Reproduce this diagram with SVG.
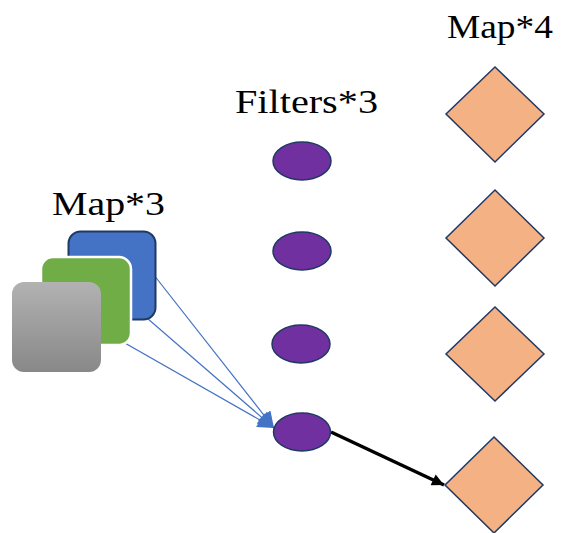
<svg xmlns="http://www.w3.org/2000/svg" width="564" height="533" viewBox="0 0 564 533">
  <style>
    .label { font-family: "Liberation Serif", "Times New Roman", serif; font-size: 34px; fill: #000; }
    .filter { fill: #7030a0; stroke: #1f3864; stroke-width: 1.5; }
    .map4 { fill: #f4b183; stroke: #203864; stroke-width: 1.5; }
    .thin { stroke: #4472c4; stroke-width: 1.2; fill: none; }
  </style>
  <defs>
    <linearGradient id="grayFill" x1="0" y1="0" x2="0" y2="1">
      <stop offset="0" stop-color="#b2b2b2"/>
      <stop offset="1" stop-color="#888888"/>
    </linearGradient>
    <marker id="blueHead" viewBox="0 0 10 10" refX="10" refY="5" markerWidth="18" markerHeight="16" markerUnits="userSpaceOnUse" orient="auto">
      <path d="M0,0 L10,5 L0,10 z" fill="#4472c4"/>
    </marker>
    <marker id="blackHead" viewBox="0 0 10 10" refX="10" refY="5" markerWidth="15" markerHeight="12" markerUnits="userSpaceOnUse" orient="auto">
      <path d="M0,0 L10,5 L0,10 z" fill="#000"/>
    </marker>
  </defs>

  <rect width="564" height="533" fill="#fff"/>

  <!-- labels -->
  <text class="label" x="52" y="215" textLength="113" lengthAdjust="spacingAndGlyphs">Map*3</text>
  <text class="label" x="235" y="113" textLength="143" lengthAdjust="spacingAndGlyphs">Filters*3</text>
  <text class="label" x="447" y="38" textLength="106" lengthAdjust="spacingAndGlyphs">Map*4</text>

  <!-- connectors -->
  <g id="connectors">
    <line class="thin" x1="150" y1="270" x2="274" y2="428" marker-end="url(#blueHead)"/>
    <line class="thin" x1="140" y1="312" x2="274" y2="428" marker-end="url(#blueHead)"/>
    <line class="thin" x1="95" y1="326" x2="274" y2="428" marker-end="url(#blueHead)"/>
    <line x1="331" y1="432" x2="444" y2="485" stroke="#000" stroke-width="3.5" marker-end="url(#blackHead)"/>
  </g>

  <!-- input maps -->
  <g id="map-blue">
    <rect x="68.5" y="231.5" width="87" height="88" rx="12" fill="#4472c4" stroke="#1f3864" stroke-width="2"/>
  </g>
  <g id="map-green">
    <rect x="41" y="257" width="90" height="88" rx="12" fill="#70ad47" stroke="#ffffff" stroke-width="2.5"/>
  </g>
  <g id="map-gray">
    <rect x="12" y="282" width="89" height="90" rx="12" fill="url(#grayFill)"/>
  </g>

  <!-- filters -->
  <g id="filter-1"><ellipse class="filter" cx="302" cy="161" rx="29" ry="19"/></g>
  <g id="filter-2"><ellipse class="filter" cx="302" cy="251" rx="29" ry="19"/></g>
  <g id="filter-3"><ellipse class="filter" cx="301" cy="344" rx="29" ry="19"/></g>
  <g id="filter-4"><ellipse class="filter" cx="302" cy="432" rx="28.5" ry="19"/></g>

  <!-- output maps -->
  <g id="out-1"><polygon class="map4" points="495,67 544,114 495,162 446,114"/></g>
  <g id="out-2"><polygon class="map4" points="495,190 544,238 495,286 446,238"/></g>
  <g id="out-3"><polygon class="map4" points="495,307 544,354 495,401 446,354"/></g>
  <g id="out-4"><polygon class="map4" points="494,437 543,485 494,533 445,485"/></g>
</svg>
